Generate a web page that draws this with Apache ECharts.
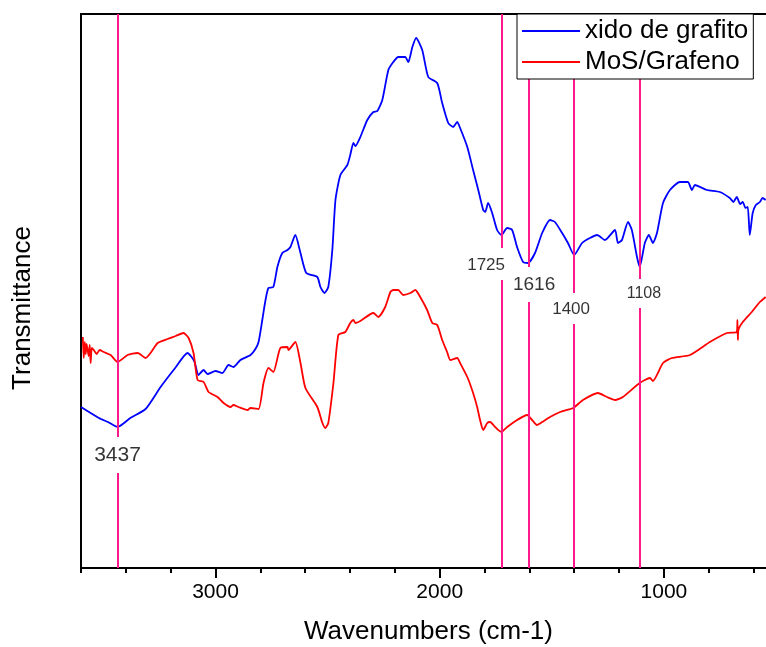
<!DOCTYPE html>
<html>
<head>
<meta charset="utf-8">
<script src="https://cdn.jsdelivr.net/npm/echarts@6/dist/echarts.min.js"></script>
<style>
  html, body { margin: 0; padding: 0; background: #fff; }
  #chartmain { width: 766px; height: 647px; }
</style>
</head>
<body>
<div id="chartmain"></div>
<script>
// datos (numero de onda, transmitancia en unidades arbitrarias)
var seriesNames = ['xido de grafito', 'MoS/Grafeno'];

var blueWave = [3600, 3520, 3480, 3437, 3380, 3312, 3245, 3180, 3125, 3095, 3076, 3053, 3036, 3000, 2969, 2942, 2920, 2889, 2844, 2822, 2808, 2790, 2777, 2764, 2742, 2724, 2702, 2679, 2666, 2644, 2621, 2595, 2546, 2532, 2514, 2497, 2479, 2465, 2443, 2412, 2399, 2385, 2376, 2354, 2323, 2296, 2278, 2256, 2229, 2207, 2185, 2154, 2140, 2122, 2105, 2078, 2051, 2011, 1989, 1962, 1940, 1922, 1909, 1877, 1851, 1828, 1806, 1797, 1784, 1766, 1744, 1725, 1699, 1677, 1655, 1628, 1606, 1575, 1543, 1508, 1486, 1454, 1428, 1400, 1365, 1330, 1298, 1263, 1218, 1205, 1187, 1160, 1143, 1120, 1108, 1085, 1067, 1049, 1031, 1004, 973, 929, 893, 875, 862, 808, 751, 706, 690, 675, 660, 648, 636, 626, 617, 604, 590, 572, 560, 546];
var blueTrans = [161, 150, 146, 141, 150, 159, 181, 200, 215, 207, 193, 198, 194, 197, 195, 203, 201, 208, 213, 219, 226, 250, 268, 280, 281, 301, 315, 318, 321, 333, 315, 295, 291, 281, 275, 281, 318, 368, 393, 403, 413, 425, 422, 431, 448, 456, 457, 468, 498, 506, 511, 511, 506, 521, 530, 518, 491, 485, 465, 445, 441, 446, 440, 421, 398, 378, 358, 356, 365, 355, 338, 333, 340, 338, 321, 306, 305, 315, 335, 348, 346, 335, 325, 313, 325, 330, 333, 328, 338, 325, 328, 346, 338, 311, 301, 325, 333, 325, 335, 365, 378, 386, 386, 378, 383, 378, 376, 370, 366, 371, 364, 366, 360, 361, 333, 355, 363, 366, 370, 368];

var redWave = [3592, 3588, 3583, 3579, 3575, 3566, 3561, 3557, 3552, 3543, 3530, 3517, 3499, 3468, 3437, 3392, 3347, 3312, 3290, 3258, 3214, 3178, 3143, 3120, 3098, 3080, 3053, 3031, 2991, 2964, 2933, 2920, 2898, 2857, 2844, 2808, 2786, 2764, 2742, 2711, 2679, 2675, 2644, 2621, 2599, 2546, 2523, 2510, 2497, 2474, 2452, 2421, 2399, 2385, 2376, 2354, 2296, 2274, 2243, 2220, 2207, 2185, 2163, 2131, 2109, 2087, 2056, 2033, 2011, 1989, 1967, 1953, 1922, 1909, 1877, 1851, 1833, 1820, 1806, 1788, 1775, 1753, 1725, 1699, 1655, 1610, 1588, 1566, 1543, 1508, 1463, 1405, 1361, 1294, 1254, 1218, 1183, 1108, 1062, 1049, 1004, 964, 884, 795, 719, 675, 672, 670, 668, 648, 608, 572, 546];
var redTrans = [231, 210, 226, 214, 224, 212, 223, 205, 220, 218, 214, 218, 216, 213, 206, 213, 215, 210, 215, 225, 229, 232, 235, 230, 215, 188, 186, 176, 171, 165, 161, 163, 161, 158, 160, 159, 185, 200, 196, 220, 221, 218, 226, 205, 180, 161, 145, 140, 145, 185, 233, 236, 245, 248, 245, 247, 255, 251, 261, 276, 278, 278, 273, 275, 278, 271, 258, 245, 243, 228, 216, 208, 210, 205, 191, 175, 161, 148, 138, 145, 146, 141, 136, 141, 148, 153, 148, 143, 146, 151, 156, 160, 168, 175, 171, 168, 171, 185, 190, 187, 205, 210, 213, 226, 235, 236, 248, 228, 238, 246, 256, 266, 271];

var peakLabels = ['3437', '1725', '1616', '1400', '1108'];
var peakWave = [3437, 1725, 1605, 1400, 1106];
var xLabelValues = [1000, 2000, 3000];
var xMinorValues = [600, 800, 1200, 1400, 1600, 1800, 2200, 2400, 2600, 2800, 3200, 3400, 3600];

// colocacion de las lineas y etiquetas (en unidades del eje y)
var lineTop = [554, 554, 490, 490, 490];
var gapTop = [131, 320, 301, 275, 289];
var gapBottom = [95, 288, 266, 244, 260];
var labelX = [3437, 1793, 1579, 1414, 1089];
var labelY = [113, 303, 283, 259, 274];
var labelSize = [21, 17, 19, 17, 16];

function pairs(a, b) {
	var out = [];
	for (var i = 0; i < a.length; i++) {
		out.push([a[i], b[i]]);
	}
	return out;
}

var markSegs = [];
for (var i = 0; i < peakWave.length; i++) {
	markSegs.push([{ coord: [peakWave[i], lineTop[i]] }, { coord: [peakWave[i], gapTop[i]] }]);
	markSegs.push([{ coord: [peakWave[i], gapBottom[i]] }, { coord: [peakWave[i], 0] }]);
}

var font = 'Liberation Sans, Arial, sans-serif';

var labelData = [];
for (var i = 0; i < peakLabels.length; i++) {
	labelData.push({
		value: [labelX[i], labelY[i]],
		name: peakLabels[i],
		label: { fontSize: labelSize[i], color: '#000', fontFamily: font }
	});
}

var option = {
	animation: false,
	backgroundColor: '#fff',
	grid: {
		left: 81,
		top: 14,
		bottom: 79,
		right: -10,
		outerBoundsMode: 'none',
		containLabel: false,
		show: true,
		borderColor: '#000',
		borderWidth: 2
	},
	legend: {
		orient: 'vertical',
		left: 517,
		top: 14,
		data: seriesNames,
		icon: 'rect',
		backgroundColor: '#fff',
		borderColor: '#000',
		borderWidth: 1,
		borderRadius: 0,
		padding: [4, 5, 4, 5],
		itemWidth: 58,
		itemHeight: 2,
		itemGap: 5,
		textStyle: { fontSize: 26, fontFamily: font, color: '#000', lineHeight: 26 },
		z: 10
	},
	xAxis: [{
		type: 'value',
		min: 500,
		max: 3600,
		inverse: true,
		position: 'bottom',
		name: 'Wavenumbers (cm-1)',
		nameLocation: 'middle',
		nameGap: 51,
		nameTextStyle: { fontSize: 26, fontFamily: font, color: '#000' },
		axisLine: { show: true, lineStyle: { color: '#000', width: 2 } },
		axisTick: { show: true, customValues: xLabelValues, length: 10, lineStyle: { color: '#000', width: 2 } },
		axisLabel: {
			customValues: xLabelValues,
			formatter: function (v) { return String(v); },
			fontSize: 21, fontFamily: font, color: '#000', margin: 14
		},
		splitLine: { show: false }
	}, {
		type: 'value',
		min: 500,
		max: 3600,
		inverse: true,
		position: 'bottom',
		axisLine: { show: false },
		axisTick: { show: true, customValues: xMinorValues, length: 5, lineStyle: { color: '#000', width: 2 } },
		axisLabel: { show: false },
		splitLine: { show: false }
	}],
	yAxis: {
		type: 'value',
		min: 0,
		max: 554,
		axisLine: { show: true, lineStyle: { color: '#000', width: 2 } },
		axisTick: { show: false },
		axisLabel: { show: false },
		splitLine: { show: false }
	},
	graphic: [{
		type: 'text',
		x: 23,
		y: 308,
		rotation: Math.PI / 2,
		style: {
			text: 'Transmittance',
			fontSize: 26,
			fontFamily: font,
			fill: '#000',
			align: 'center',
			verticalAlign: 'middle'
		}
	}],
	series: [{
		name: seriesNames[0],
		type: 'line',
		data: pairs(blueWave, blueTrans),
		symbol: 'none',
		smooth: 0.2,
		lineStyle: { color: '#0000ff', width: 1.8 },
		itemStyle: { color: '#0000ff' },
		z: 3
	}, {
		name: seriesNames[1],
		type: 'line',
		data: pairs(redWave, redTrans),
		symbol: 'none',
		smooth: 0.2,
		lineStyle: { color: '#ff0000', width: 1.8 },
		itemStyle: { color: '#ff0000' },
		z: 3
	}, {
		name: 'picos',
		type: 'scatter',
		data: labelData,
		symbolSize: 0,
		silent: true,
		label: {
			show: true,
			position: 'inside',
			formatter: function (p) { return p.name; },
			fontFamily: font,
			color: '#000',
			textBorderWidth: 0
		},
		markLine: {
			silent: true,
			symbol: ['none', 'none'],
			label: { show: false },
			lineStyle: { color: '#ff1a8c', width: 2, type: 'solid' },
			data: markSegs
		},
		z: 2
	}]
};

var myChart = echarts.init(document.getElementById('chartmain'));
myChart.setOption(option);
</script>
</body>
</html>
